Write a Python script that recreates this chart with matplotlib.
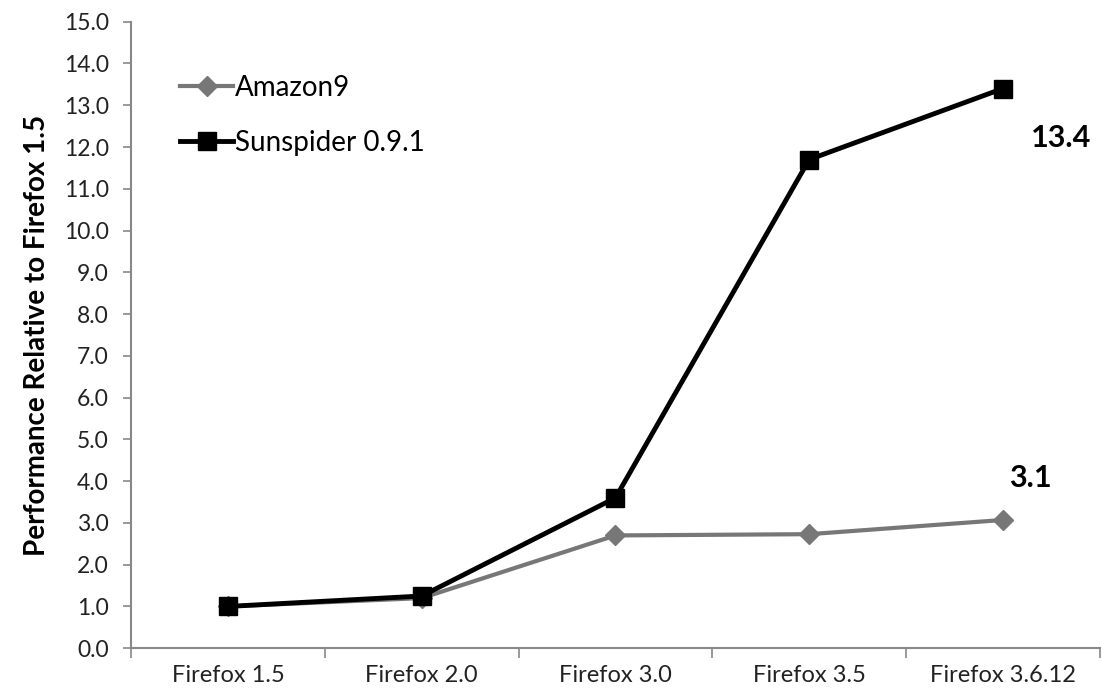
import numpy as np
import matplotlib
matplotlib.use("Agg")
import matplotlib.pyplot as plt

versions = ["Firefox 1.5", "Firefox 2.0", "Firefox 3.0", "Firefox 3.5", "Firefox 3.6.12"]
amazon9 = [1.0, 1.2, 2.7, 2.73, 3.07]
sunspider = [1.0, 1.25, 3.6, 11.7, 13.4]
y_ticks = np.arange(0, 16, 1)

plt.rcParams['font.family'] = ['Lato', 'DejaVu Sans']

fig = plt.figure(figsize=(11.02, 7.0), dpi=100)
ax = fig.add_axes([0.119, 0.074, 0.879, 0.895])

x = np.arange(len(versions))
ax.plot(x, amazon9, color='#777777', lw=3, marker='D', markersize=10,
        label='Amazon9', zorder=2)
ax.plot(x, sunspider, color='black', lw=3.5, marker='s', markersize=13,
        label='Sunspider 0.9.1', zorder=3)

# valores finales
ax.annotate(f"{sunspider[-1]:.1f}", (x[-1], sunspider[-1]), xytext=(42, -42),
            textcoords='offset points', fontsize=22, fontweight='bold', ha='center')
ax.annotate(f"{amazon9[-1]:.1f}", (x[-1], amazon9[-1]), xytext=(20, 24),
            textcoords='offset points', fontsize=22, fontweight='bold', ha='center')

ax.set_xlim(-0.5, len(versions) - 0.5)
ax.set_ylim(0, 15)
ax.set_yticks(y_ticks)
ax.set_yticklabels([f"{v:.1f}" for v in y_ticks], fontsize=16.5, color='#222222')
ax.set_xticks(x)
ax.set_xticklabels(versions, fontsize=17, color='#222222')
ax.set_xticks(np.arange(-0.5, len(versions), 1), minor=True)
ax.tick_params(axis='x', which='major', length=0, pad=12)
ax.tick_params(axis='x', which='minor', length=7, color='#888888', width=1.2)
ax.tick_params(axis='y', length=6, color='#888888', width=1.2, pad=10)

for s in ['top', 'right']:
    ax.spines[s].set_visible(False)
for s in ['left', 'bottom']:
    ax.spines[s].set_color('#888888')
    ax.spines[s].set_linewidth(1.5)

ax.set_ylabel("Performance Relative to Firefox 1.5", fontsize=20, fontweight='bold', labelpad=10)

ax.legend(loc='upper left', bbox_to_anchor=(0.025, 0.955), frameon=False, fontsize=20,
          handlelength=1.9, handletextpad=0.05, labelspacing=1.05)

fig.savefig("out.png", dpi=100)
